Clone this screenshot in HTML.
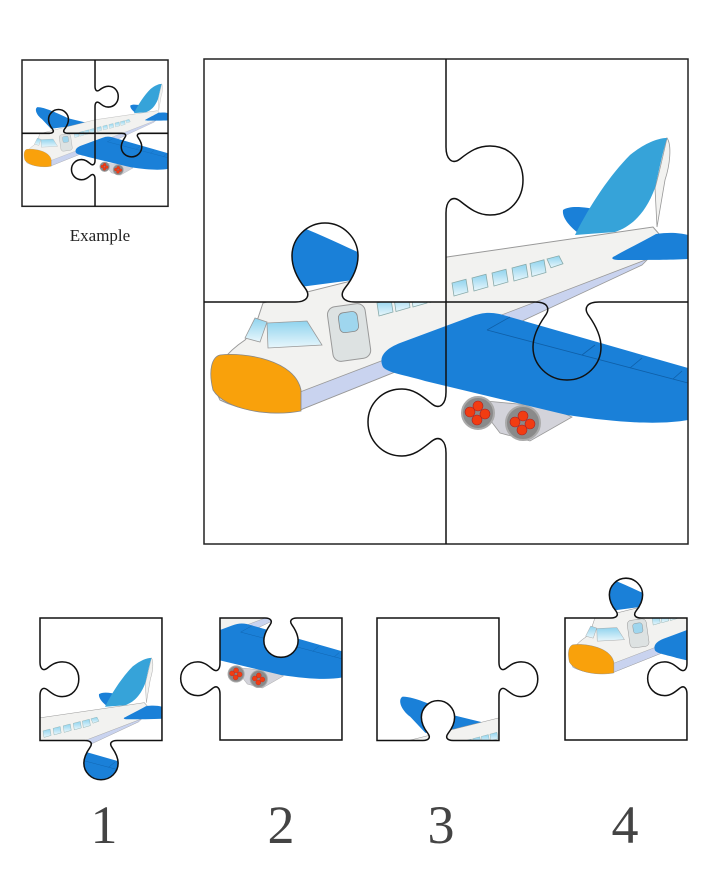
<!DOCTYPE html>
<html><head><meta charset="utf-8"><style>
html,body{margin:0;padding:0;background:#fff;}
svg{display:block;}
</style></head><body>
<svg width="725" height="886" viewBox="0 0 725 886" xmlns="http://www.w3.org/2000/svg">
<defs>
<path id="pTL" d="M4,4 L246,4 L246,92 C246,104 252,110 260,104 C270,96 278,91 290,91 C310,91 323,106 323,125 C323,144 310,160 290,160 C278,160 270,154 260,146 C252,140 246,146 246,158 L246,247 L155,247 C143,247 139,241 145,233 C153,223 158,213 158,201 C158,183 143,168 125,168 C107,168 92,183 92,201 C92,213 97,223 105,233 C111,241 107,247 95,247 L4,247 Z"/>
<path id="pTR" d="M246,4 L488,4 L488,247 L399,247 C387,247 383,253 389,261 C396,271 401,281 401,292 C401,310 386,325 367,325 C348,325 333,310 333,292 C333,281 338,271 345,261 C351,253 347,247 335,247 L246,247 L246,158 C246,146 252,140 260,146 C270,154 278,160 290,160 C310,160 323,144 323,125 C323,106 310,91 290,91 C278,91 270,96 260,104 C252,110 246,104 246,92 L246,4 Z"/>
<path id="pBL" d="M4,247 L95,247 C107,247 111,241 105,233 C97,223 92,213 92,201 C92,183 107,168 125,168 C143,168 158,183 158,201 C158,213 153,223 145,233 C139,241 143,247 155,247 L246,247 L246,337 C246,349 240,355 232,349 C222,341 214,334 202,334 C182,334 168,349 168,367 C168,385 182,401 202,401 C214,401 222,394 232,386 C240,380 246,386 246,398 L246,489 L4,489 Z"/>
<path id="pBR" d="M246,247 L335,247 C347,247 351,253 345,261 C338,271 333,281 333,292 C333,310 348,325 367,325 C386,325 401,310 401,292 C401,281 396,271 389,261 C383,253 387,247 399,247 L488,247 L488,489 L246,489 L246,398 C246,386 240,380 232,386 C222,394 214,401 202,401 C182,401 168,385 168,367 C168,349 182,334 202,334 C214,334 222,341 232,349 C240,355 246,349 246,337 L246,247 Z"/>
<path id="cuts" d="M246,4 L246,92 C246,104 252,110 260,104 C270,96 278,91 290,91 C310,91 323,106 323,125 C323,144 310,160 290,160 C278,160 270,154 260,146 C252,140 246,146 246,158 L246,337 C246,349 240,355 232,349 C222,341 214,334 202,334 C182,334 168,349 168,367 C168,385 182,401 202,401 C214,401 222,394 232,386 C240,380 246,386 246,398 L246,489 M4,247 L95,247 C107,247 111,241 105,233 C97,223 92,213 92,201 C92,183 107,168 125,168 C143,168 158,183 158,201 C158,213 153,223 145,233 C139,241 143,247 155,247 L335,247 C347,247 351,253 345,261 C338,271 333,281 333,292 C333,310 348,325 367,325 C386,325 401,310 401,292 C401,281 396,271 389,261 C383,253 387,247 399,247 L488,247"/>
<clipPath id="cMain"><use href="#pTR"/><use href="#pBR"/><use href="#pBL"/></clipPath>
<clipPath id="cAll"><rect x="4" y="4" width="484" height="485"/></clipPath>
<clipPath id="cTL"><use href="#pTL"/></clipPath>
<clipPath id="cTR"><use href="#pTR"/></clipPath>
<clipPath id="cBL"><use href="#pBL"/></clipPath>
<clipPath id="cBR"><use href="#pBR"/></clipPath>
<linearGradient id="gw" x1="0" y1="0" x2="0" y2="1"><stop offset="0" stop-color="#8fd3ee"/><stop offset="1" stop-color="#e9f7fc"/></linearGradient>
<g id="plane">
  <!-- far wing -->
  <path d="M55,160 C45,165 50,185 70,200 L100,232 L230,215 L160,198 C120,180 80,160 55,160 Z" fill="#1a80d8"/>
  <!-- upper stabilizer -->
  <path d="M363,155 C370,150 385,152 400,155 L378,178 C368,170 362,162 363,155 Z" fill="#1a80d8"/>
  <!-- fuselage -->
  <path d="M13,330 C15,310 30,295 45,285 L55,272 L63,248 L247,202 L453,172 L460,180 L448,204 L320,267 L100,355 C70,360 40,355 20,345 Z" fill="#f2f2f0" stroke="#999" stroke-width="1"/>
  <path d="M100,337 L448,204 L442,210 L320,267 L100,355 Z" fill="#c9d3ef" stroke="#999" stroke-width="0.8"/>
  <!-- windows -->
  <g fill="url(#gw)" stroke="#8aa" stroke-width="0.8">
    <path d="M177,248 l14,-3.7 l2,12.7 l-14,4 z"/>
    <path d="M194,243.5 l14,-3.7 l2,12.7 l-14,4 z"/>
    <path d="M211,239 l14,-3.7 l2,12.7 l-14,4 z"/>
    <path d="M228,234.5 l14,-3.7 l2,12.7 l-14,4 z"/>
    <path d="M252,228 l14,-3.7 l2,12.7 l-14,4 z"/>
    <path d="M272,223 l14,-3.7 l2,12.7 l-14,4 z"/>
    <path d="M292,218 l14,-3.7 l2,12.7 l-14,4 z"/>
    <path d="M312,213 l14,-3.7 l2,12.7 l-14,4 z"/>
    <path d="M330,208.5 l14,-3.7 l2,12.7 l-14,4 z"/>
    <path d="M347,204 l12,-3.2 l4,8 l-12,4 z"/>
  </g>
  <!-- cockpit -->
  <path d="M67,268 L107,266 L122,290 L68,293 Z" fill="url(#gw)" stroke="#999" stroke-width="0.8"/>
  <path d="M45,283 L55,263 L67,267 L60,287 Z" fill="url(#gw)" stroke="#999" stroke-width="0.8"/>
  <!-- door -->
  <rect x="130" y="250" width="38" height="55" rx="8" fill="#dde2e2" stroke="#999" stroke-width="1" transform="rotate(-8 149 277)"/>
  <rect x="139" y="257" width="19" height="20" rx="5" fill="#9fd6ee" stroke="#888" stroke-width="0.8" transform="rotate(-8 149 267)"/>
  <!-- nose -->
  <path d="M20,300 C45,297 95,305 101,335 L101,356 C70,362 25,355 13,335 C8,315 12,302 20,300 Z" fill="#f9a10b" stroke="#888" stroke-width="0.8"/>
  <!-- fin -->
  <path d="M467,83 C472,90 470,110 465,125 L457,172 L455,133 C460,115 463,100 467,83 Z" fill="#f2f2f0" stroke="#999" stroke-width="0.8"/>
  <path d="M375,180 C390,150 410,120 430,100 C445,88 458,83 467,83 C462,100 458,120 455,133 C445,160 430,172 415,177 Z" fill="#36a3d9"/>
  <!-- rear stabilizer -->
  <path d="M415,201 C425,195 440,188 456,179 C470,177 480,178 488,180 L488,204 C470,205 440,205 420,205 C412,205 410,203 415,201 Z" fill="#1a80d8"/>
  <!-- engines -->
  <path d="M275,345 L350,352 L372,362 L330,386 L300,378 Z" fill="#d3d3da" stroke="#999" stroke-width="0.8"/>
  <g stroke="#aaa" stroke-width="2">
    <circle cx="278" cy="358" r="16" fill="#8a8a8a"/>
    <circle cx="323" cy="368" r="17" fill="#8a8a8a"/>
  </g>
  <g fill="#f23c12" stroke="#a22" stroke-width="0.6">
    <circle cx="278" cy="351" r="5"/><circle cx="285" cy="359" r="5"/><circle cx="277" cy="365" r="5"/><circle cx="270" cy="357" r="5"/>
    <circle cx="323" cy="361" r="5"/><circle cx="330" cy="369" r="5"/><circle cx="322" cy="375" r="5"/><circle cx="315" cy="367" r="5"/>
  </g>
  <!-- wing -->
  <path d="M183,312 C178,302 185,294 200,288 L270,262 C285,256 295,257 310,262 L488,313 L488,365 C460,370 420,368 367,360 L225,326 C205,320 188,318 183,312 Z" fill="#1a80d8"/>
  <g stroke="#0f5fa8" stroke-width="0.8" fill="none">
    <path d="M287,275 L488,328 M287,275 L310,262"/>
    <path d="M382,300 L395,290 M430,313 L442,303 M473,324 L482,316"/>
  </g>
</g>
</defs>

<!-- thumbnail -->
<g transform="translate(22,60) scale(0.3017) translate(-4,-4)">
  <use href="#plane" clip-path="url(#cAll)"/>
  <rect x="4" y="4" width="484" height="485" fill="none" stroke="#222" stroke-width="5"/>
  <use href="#cuts" fill="none" stroke="#111" stroke-width="5"/>
</g>
<text x="100" y="241" text-anchor="middle" font-family="Liberation Serif, serif" font-size="17" fill="#222">Example</text>

<!-- main -->
<g transform="translate(200,55)">
  <use href="#plane" clip-path="url(#cMain)"/>
  <rect x="4" y="4" width="484" height="485" fill="none" stroke="#222" stroke-width="1.5"/>
  <use href="#cuts" fill="none" stroke="#111" stroke-width="1.5"/>
</g>

<!-- pieces -->
<g transform="translate(40,618) scale(0.504) translate(-246,-4)">
  <use href="#plane" clip-path="url(#cTR)"/>
  <use href="#pTR" fill="none" stroke="#111" stroke-width="3"/>
</g>
<g transform="translate(220,618) scale(0.504) translate(-246,-247)">
  <use href="#plane" clip-path="url(#cBR)"/>
  <use href="#pBR" fill="none" stroke="#111" stroke-width="3"/>
</g>
<g transform="translate(377,618) scale(0.504) translate(-4,-4)">
  <use href="#plane" clip-path="url(#cTL)"/>
  <use href="#pTL" fill="none" stroke="#111" stroke-width="3"/>
</g>
<g transform="translate(565,618) scale(0.504) translate(-4,-247)">
  <use href="#plane" clip-path="url(#cBL)"/>
  <use href="#pBL" fill="none" stroke="#111" stroke-width="3"/>
</g>

<g font-family="Liberation Serif, serif" font-size="54" fill="#444" text-anchor="middle">
  <text x="104" y="843">1</text>
  <text x="281" y="843">2</text>
  <text x="441" y="843">3</text>
  <text x="625" y="843">4</text>
</g>
</svg>
</body></html>
